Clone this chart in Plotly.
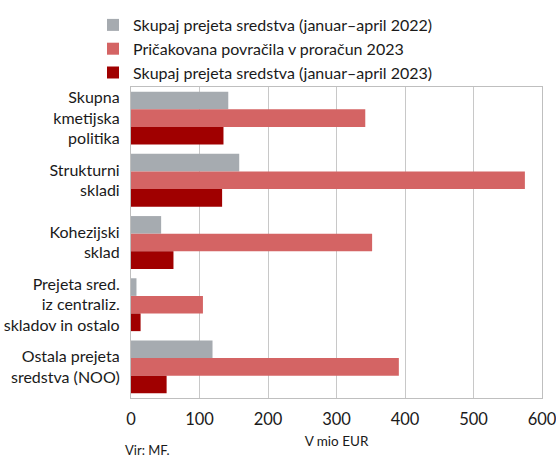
import plotly.graph_objects as go

categories = ["Skupna<br>kmetijska<br>politika", "Strukturni<br>skladi", "Kohezijski<br>sklad",
              "Prejeta sred.<br>iz centraliz.<br>skladov in ostalo", "Ostala prejeta<br>sredstva (NOO)"]
series_names = ["Skupaj prejeta sredstva (januar–april 2022)",
                "Pričakovana povračila v proračun 2023",
                "Skupaj prejeta sredstva (januar–april 2023)"]
vals_2022 = [142, 158, 44, 8, 119]
vals_plan = [342, 575, 352, 105, 391]
vals_2023 = [135, 133, 62, 14, 52]
colors = ["#a6abb0", "#d46464", "#a00000"]

FONT = "Lato"
fig = go.Figure()
for name, vals, c in zip(series_names, [vals_2022, vals_plan, vals_2023], colors):
    fig.add_trace(go.Bar(y=categories, x=vals, name=name, orientation="h",
                         marker=dict(color=c, line=dict(width=0))))

fig.update_layout(
    width=556, height=458,
    margin=dict(l=131, r=14, t=87, b=60, autoexpand=False),
    barmode="group", bargap=0.15, bargroupgap=0,
    plot_bgcolor="white", paper_bgcolor="white",
    font=dict(family=FONT, color="#1a1a1a"),
    legend=dict(x=93 / 556, y=1 - 8 / 458, xref="container", yref="container",
                xanchor="left", yanchor="top",
                font=dict(size=16, family=FONT), traceorder="normal",
                bgcolor="rgba(0,0,0,0)", itemwidth=30, tracegroupgap=0),
    showlegend=True,
    xaxis=dict(range=[0, 600], dtick=100, showgrid=True, gridcolor="#c8c8c8", gridwidth=1.2,
               zeroline=False, showline=True, linecolor="#bfbfbf", mirror=True, linewidth=1.2,
               tickfont=dict(size=16.5, family=FONT), ticks="", ticklabelstandoff=6, automargin=False,
               ticklabeloverflow="allow",
               title=dict(text="V mio EUR", font=dict(size=13.5, family=FONT), standoff=8)),
    yaxis=dict(autorange="reversed", showline=True, linecolor="#bfbfbf", mirror=True, linewidth=1.2,
               tickfont=dict(size=16, family=FONT), ticks="", ticklabelstandoff=7, showgrid=False,
               automargin=False),
    annotations=[dict(text="Vir: MF.", x=-0.02, y=-0.135, xref="paper", yref="paper",
                      xanchor="left", yanchor="top", showarrow=False,
                      font=dict(size=13, family=FONT))],
)
fig.write_html("out.html", config={"displayModeBar": False},
               post_script="document.body.style.margin='0';document.body.style.padding='0';")
